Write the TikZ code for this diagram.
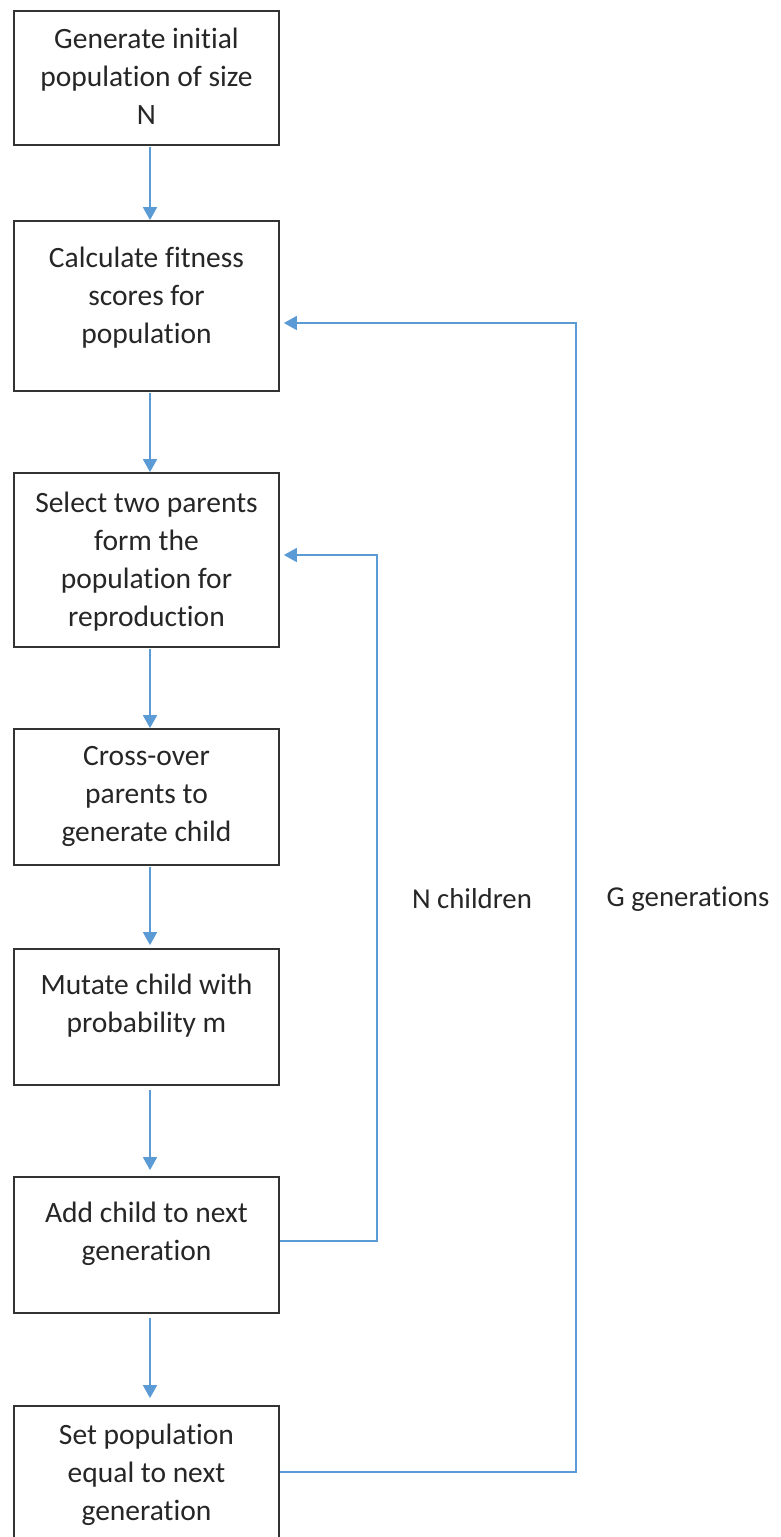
\documentclass[tikz,border=0pt]{standalone}
\usepackage{fontspec}
\setmainfont{Carlito}[Ligatures=NoCommon]
\usetikzlibrary{arrows.meta}
\definecolor{flowblue}{HTML}{5B9BD5}
\definecolor{boxline}{HTML}{333333}
\begin{document}
\begin{tikzpicture}[x=1pt,y=-1pt,
  box/.style={draw=boxline, line width=1.8pt, minimum width=265pt, inner sep=0pt, fill=white},
  txt/.style={anchor=north, inner sep=0pt, align=center, text=black!85,
    font=\fontsize{29.5}{38}\selectfont, execute at begin node={\rule{0pt}{26.6pt}}},
  lbl/.style={inner sep=0pt, text=black!85, font=\fontsize{28.8}{38}\selectfont},
  arr/.style={draw=flowblue, line width=1.8pt, -{Triangle[length=13pt,width=14pt]}},
]
\useasboundingbox (0,0) rectangle (780,1537);
\fill[white] (0,0) rectangle (780,1537);

% boxes
\node[box, minimum height=134pt] (b1) at (146.5,78) {};
\node[box, minimum height=170pt] (b2) at (146.5,306) {};
\node[box, minimum height=174pt] (b3) at (146.5,560) {};
\node[box, minimum height=136pt] (b4) at (146.5,797) {};
\node[box, minimum height=136pt] (b5) at (146.5,1017) {};
\node[box, minimum height=136pt] (b6) at (146.5,1245) {};
\node[box, minimum height=136pt] (b7) at (146.5,1474) {};

% box texts
\node[txt] (t1) at ([yshift=-17.4pt]b1.north) {Generate initial\\population of size\\N};
\node[txt] (t2) at ([yshift=-26.4pt]b2.north) {Calculate fitness\\scores for\\population};
\node[txt] (t3) at ([yshift=-19.4pt]b3.north) {Select two parents\\form the\\population for\\reproduction};
\node[txt] (t4) at ([yshift=-18.4pt]b4.north) {Cross-over\\parents to\\generate child};
\node[txt] (t5) at ([yshift=-25.4pt]b5.north) {Mutate child with\\probability m};
\node[txt] (t6) at ([yshift=-25.4pt]b6.north) {Add child to next\\generation};
\node[txt] (t7) at ([yshift=-18.4pt]b7.north) {Set population\\equal to next\\generation};

% loop labels
\node[lbl] (nlab) at (472,899) {N children};
\node[lbl] (glab) at (688,899) {G generations};

% main flow
\draw[arr, shorten <=1pt] ([xshift=3.5pt]b1.south) -- ([xshift=3.5pt]b2.north);
\draw[arr, shorten <=1pt] ([xshift=3.5pt]b2.south) -- ([xshift=3.5pt]b3.north);
\draw[arr, shorten <=1pt] ([xshift=3.5pt]b3.south) -- ([xshift=3.5pt]b4.north);
\draw[arr, shorten <=1pt, shorten >=3pt] ([xshift=3.5pt]b4.south) -- ([xshift=3.5pt]b5.north);
\draw[arr, shorten <=4pt, shorten >=6pt] ([xshift=3.5pt]b5.south) -- ([xshift=3.5pt]b6.north);
\draw[arr, shorten <=4pt, shorten >=7pt] ([xshift=3.5pt]b6.south) -- ([xshift=3.5pt]b7.north);

% feedback loops
\draw[arr, shorten >=4pt] ([yshift=4pt]b6.east) -| ([xshift=97pt,yshift=5pt]b3.east) -- ([yshift=5pt]b3.east);
\draw[arr, shorten >=4pt] ([yshift=2pt]b7.east) -| ([xshift=296pt,yshift=-17pt]b2.east) -- ([yshift=-17pt]b2.east);
\end{tikzpicture}
\end{document}
